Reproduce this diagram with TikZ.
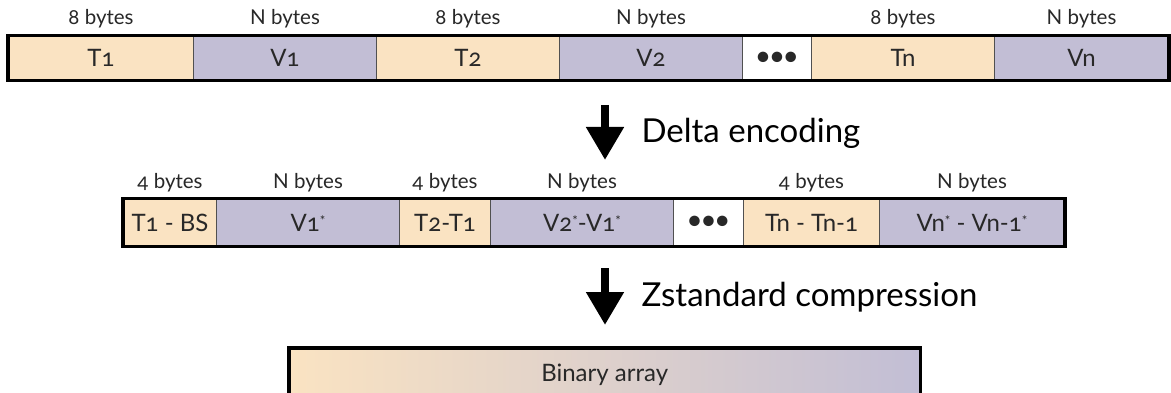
\documentclass[tikz,border=0pt]{standalone}
\usepackage{fontspec}
\setmainfont{Lato}[Numbers=OldStyle]
\usetikzlibrary{arrows.meta}
\definecolor{tcol}{RGB}{250,227,194}
\definecolor{vcol}{RGB}{194,190,213}
\definecolor{sepgray}{RGB}{80,80,80}
\definecolor{txt}{RGB}{40,40,40}
% small raised asterisk used for transformed values
\newcommand\sstar{\raisebox{0.25em}{\fontsize{13}{13}\selectfont *}}
\newcommand\elided{\fontsize{24}{24}\selectfont\bfseries •••}

\begin{document}
\begin{tikzpicture}[x=1pt,y=-1pt,
  cell/.style={draw=sepgray, line width=1pt, inner sep=0pt, anchor=west,
               font=\fontsize{24}{24}\selectfont, text=txt},
  tcell/.style={cell, fill=tcol},
  vcell/.style={cell, fill=vcol},
  dcell/.style={cell, fill=white},
  row1/.style={minimum height=44pt},
  row2/.style={minimum height=47pt},
  size/.style={font=\fontsize{20.5}{20.5}\selectfont, text=txt, anchor=base},
  outline/.style={draw=black, line width=3.5pt},
  step arrow/.style={line width=8pt, -{Triangle[width=36pt,length=33pt]}},
  caption/.style={font=\fontsize{33}{33}\selectfont, text=black, anchor=base west}]

\useasboundingbox (0,0) rectangle (1171,393);
\clip (0,0) rectangle (1171,393);
\fill[white] (0,0) rectangle (1171,393);

% --- original record layout ---
\node[tcell,row1,minimum width=185pt] (t1) at (8,58)   {T1};
\node[vcell,row1,minimum width=183pt] (v1) at (193,58) {V1};
\node[tcell,row1,minimum width=183pt] (t2) at (376,58) {T2};
\node[vcell,row1,minimum width=183pt] (v2) at (559,58) {V2};
\node[dcell,row1,minimum width=69pt]  (d1) at (742,58) {\elided};
\node[tcell,row1,minimum width=183pt] (tn) at (811,58) {Tn};
\node[vcell,row1,minimum width=174pt] (vn) at (994,58) {Vn};
\draw[outline] (t1.north west) rectangle (vn.south east);

\node[size] (s1) at ([yshift=11pt]t1.north) {8 bytes};
\node[size] (s2) at ([yshift=11pt]v1.north) {N bytes};
\node[size] (s3) at ([yshift=11pt]t2.north) {8 bytes};
\node[size] (s4) at ([yshift=11pt]v2.north) {N bytes};
\node[size] (s5) at ([yshift=11pt]tn.north) {8 bytes};
\node[size] (s6) at ([yshift=11pt]vn.north) {N bytes};

% --- first step ---
\coordinate (a1s) at (605,105);
\coordinate (a1e) at (605,160);
\draw[step arrow] (a1s) -- (a1e);
\node[caption] (c1) at (638,143) {Delta encoding};

% --- delta-encoded layout ---
\node[tcell,row2,minimum width=93pt]  (dt1) at (123,222.5) {T1 - BS};
\node[vcell,row2,minimum width=183pt] (dv1) at (216,222.5) {V1\sstar};
\node[tcell,row2,minimum width=91pt]  (dt2) at (399,222.5) {T2-T1};
\node[vcell,row2,minimum width=183pt] (dv2) at (490,222.5) {V2\sstar-V1\sstar};
\node[dcell,row2,minimum width=70pt]  (dd)  at (673,222.5) {\elided};
\node[tcell,row2,minimum width=136pt] (dtn) at (743,222.5) {Tn - Tn-1};
\node[vcell,row2,minimum width=185pt] (dvn) at (879,222.5) {Vn\sstar\ - Vn-1\sstar};
\draw[outline] (dt1.north west) rectangle (dvn.south east);

\node[size] (r1) at ([yshift=10pt]dt1.north) {4 bytes};
\node[size] (r2) at ([yshift=10pt]dv1.north) {N bytes};
\node[size] (r3) at ([yshift=10pt]dt2.north) {4 bytes};
\node[size] (r4) at ([yshift=10pt]dv2.north) {N bytes};
\node[size] (r5) at ([yshift=10pt]dtn.north) {4 bytes};
\node[size] (r6) at ([yshift=10pt]dvn.north) {N bytes};

% --- second step ---
\coordinate (a2s) at (605,268);
\coordinate (a2e) at (605,325);
\draw[step arrow] (a2s) -- (a2e);
\node[caption] (c2) at (638,306) {Zstandard compression};

% --- compressed output ---
\node[anchor=north west, minimum width=631pt, minimum height=54pt, inner sep=0pt,
      left color=tcol, right color=vcol, font=\fontsize{24}{24}\selectfont, text=txt]
      (bin) at (289,348) {Binary array};
\draw[outline] (bin.south west) -- (bin.north west) -- (bin.north east) -- (bin.south east);
\end{tikzpicture}
\end{document}
